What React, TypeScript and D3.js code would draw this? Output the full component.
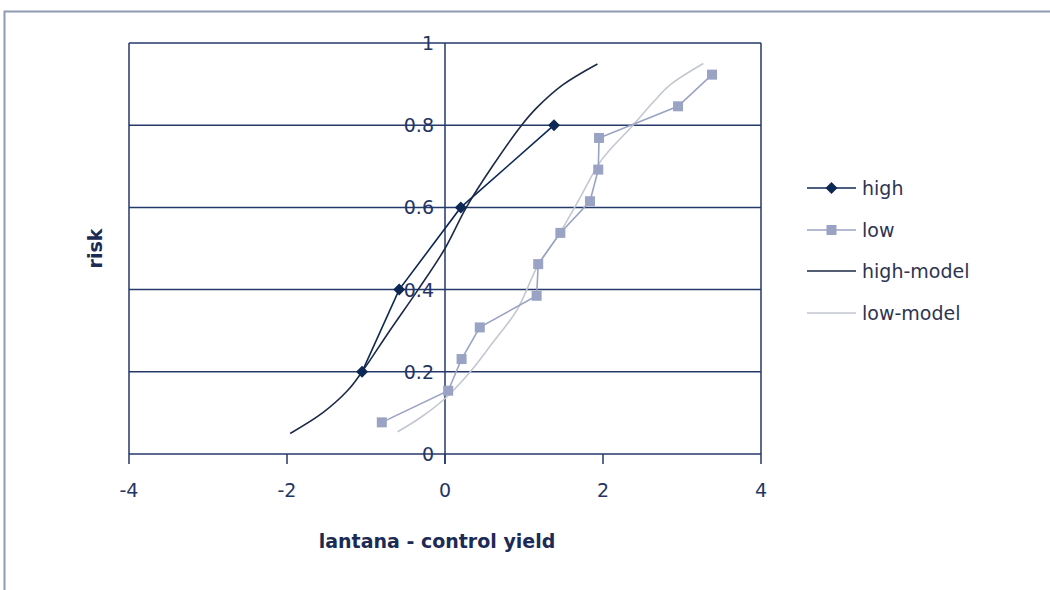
import React from "react";
import * as d3 from "d3";

// Observed risk points (cumulative rank fractions)
const highX = [-1.05, -0.58, 0.2, 1.38];
const highY = [0.2, 0.4, 0.6, 0.8];

const lowX = [-0.8, 0.04, 0.21, 0.44, 1.16, 1.18, 1.46, 1.835, 1.94, 1.95, 2.95, 3.38];
const lowY = [0.077, 0.154, 0.231, 0.308, 0.385, 0.462, 0.538, 0.615, 0.692, 0.769, 0.846, 0.923];

// Fitted model curves
const highModelX = [-1.96, -1.55, -1.23, -1.05, -0.7, -0.34, 0, 0.27, 0.6, 0.97, 1.16, 1.49, 1.93];
const highModelY = [0.05, 0.1, 0.155, 0.2, 0.3, 0.4, 0.5, 0.6, 0.7, 0.8, 0.842, 0.898, 0.949];

const lowModelX = [-0.6, -0.3, 0, 0.32, 0.6, 0.91, 1.18, 1.46, 1.7, 1.98, 2.38, 2.64, 2.85, 3.27];
const lowModelY = [0.054, 0.09, 0.135, 0.2, 0.27, 0.35, 0.46, 0.54, 0.62, 0.715, 0.8, 0.857, 0.898, 0.95];

const xTicks = [-4, -2, 0, 2, 4];
const yTicks = [0, 0.2, 0.4, 0.6, 0.8, 1];

const legendLabels = ["high", "low", "high-model", "low-model"];

const NAVY = "#26396b";
const HIGH = "#0e2855";
const LOW = "#9aa3c3";
const LOW_MODEL = "#c3c7d0";
const FONT = "'DejaVu Sans', sans-serif";

export default function App() {
  const W = 1050;
  const H = 590;
  const left = 129;
  const right = 761;
  const top = 43;
  const bottom = 454;

  const x = d3.scaleLinear().domain([-4, 4]).range([left, right]);
  const y = d3.scaleLinear().domain([0, 1]).range([bottom, top]);

  const pts = (xs: number[], ys: number[]) => xs.map((v, i) => [v, ys[i]] as [number, number]);

  const straight = d3
    .line<[number, number]>()
    .x((d) => x(d[0]))
    .y((d) => y(d[1]));
  const smooth = d3
    .line<[number, number]>()
    .x((d) => x(d[0]))
    .y((d) => y(d[1]))
    .curve(d3.curveCatmullRom.alpha(0.5));

  const diamond = (cx: number, cy: number, r: number) =>
    `M${cx},${cy - r}L${cx + r},${cy}L${cx},${cy + r}L${cx - r},${cy}Z`;

  const legendX0 = 807;
  const legendX1 = 856;
  const legendRows = [188, 230, 271, 313];

  return (
    <svg
      width={W}
      height={H}
      style={{ position: "absolute", left: 0, top: 0, background: "#fff" }}
      fontFamily={FONT}
    >
      {/* outer frame */}
      <rect x={4.5} y={11.5} width={W + 20} height={H + 20} fill="none" stroke="#8d9bb3" strokeWidth={2} />

      {/* gridlines */}
      {yTicks.map((t) => (
        <line key={"g" + t} x1={left} x2={right} y1={y(t)} y2={y(t)} stroke={NAVY} strokeWidth={1.5} />
      ))}
      {/* plot border */}
      <line x1={left} x2={left} y1={top} y2={bottom} stroke={NAVY} strokeWidth={1.5} />
      <line x1={right} x2={right} y1={top} y2={bottom} stroke={NAVY} strokeWidth={1.5} />
      {/* y axis at x = 0 */}
      <line x1={x(0)} x2={x(0)} y1={top} y2={bottom + 10} stroke={NAVY} strokeWidth={1.5} />
      {/* x ticks */}
      {xTicks.map((t) => (
        <line key={"xt" + t} x1={x(t)} x2={x(t)} y1={bottom} y2={bottom + 10} stroke={NAVY} strokeWidth={1.5} />
      ))}

      {/* y tick labels */}
      {yTicks.map((t) => (
        <text
          key={"yl" + t}
          x={x(0) - 11}
          y={y(t) + 7}
          textAnchor="end"
          fontSize={19}
          fill="#233563"
        >
          {d3.format("~g")(t)}
        </text>
      ))}
      {/* x tick labels */}
      {xTicks.map((t) => (
        <text key={"xl" + t} x={x(t)} y={497} textAnchor="middle" fontSize={19} fill="#233563">
          {t}
        </text>
      ))}

      {/* axis titles */}
      <text x={437} y={548} textAnchor="middle" fontSize={19} fontWeight="bold" fill="#1b2b55">
        lantana - control yield
      </text>
      <text
        transform={`translate(102,${(top + bottom) / 2}) rotate(-90)`}
        textAnchor="middle"
        fontSize={19}
        fontWeight="bold"
        fill="#1b2b55"
      >
        risk
      </text>

      {/* model curves */}
      <path d={smooth(pts(lowModelX, lowModelY)) || ""} fill="none" stroke={LOW_MODEL} strokeWidth={1.6} />
      <path d={smooth(pts(highModelX, highModelY)) || ""} fill="none" stroke="#1d2a45" strokeWidth={1.6} />

      {/* observed series */}
      <path d={straight(pts(lowX, lowY)) || ""} fill="none" stroke={LOW} strokeWidth={1.6} />
      {lowX.map((v, i) => (
        <rect key={"ls" + i} x={x(v) - 5} y={y(lowY[i]) - 5} width={10} height={10} fill={LOW} />
      ))}
      <path d={straight(pts(highX, highY)) || ""} fill="none" stroke={HIGH} strokeWidth={1.6} />
      {highX.map((v, i) => (
        <path key={"hd" + i} d={diamond(x(v), y(highY[i]), 6)} fill={HIGH} />
      ))}

      {/* legend */}
      {legendLabels.map((lab, i) => {
        const ly = legendRows[i];
        const cx = (legendX0 + legendX1) / 2;
        const color = i === 0 ? HIGH : i === 1 ? LOW : i === 2 ? "#1d2a45" : LOW_MODEL;
        return (
          <g key={lab}>
            <line x1={legendX0} x2={legendX1} y1={ly} y2={ly} stroke={color} strokeWidth={1.6} />
            {i === 0 && <path d={diamond(cx, ly, 6)} fill={HIGH} />}
            {i === 1 && <rect x={cx - 5} y={ly - 5} width={10} height={10} fill={LOW} />}
            <text x={862} y={ly + 7} fontSize={19} fill="#2e3550">
              {lab}
            </text>
          </g>
        );
      })}
    </svg>
  );
}
